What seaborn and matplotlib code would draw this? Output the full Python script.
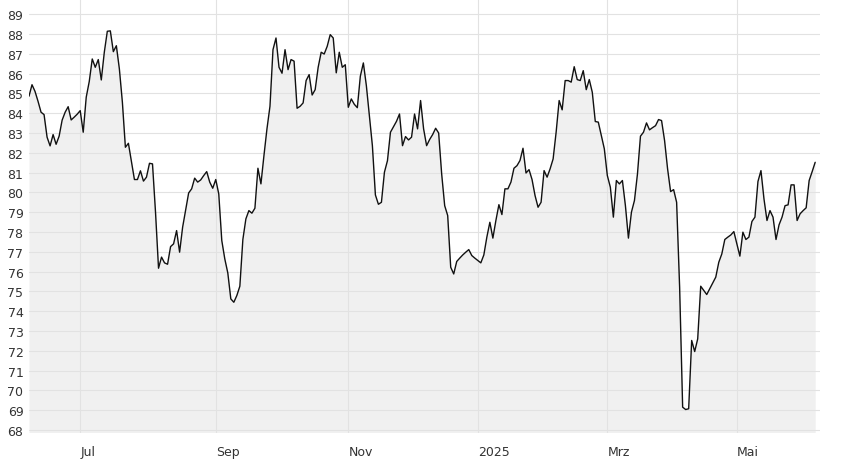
import matplotlib
matplotlib.use("Agg")
import matplotlib.pyplot as plt
import seaborn as sns
import numpy as np
import pandas as pd

# Schlusskurse je Handelstag, ab 06.06.2024
kurs = [
    84.86, 85.44, 85.1, 84.6, 84.05, 83.93, 82.79, 82.35, 82.92, 82.43,
    82.84, 83.65, 84.05, 84.33, 83.66, 83.8, 83.95, 84.13, 83.04, 84.81,
    85.6, 86.74, 86.32, 86.71, 85.68, 87.08, 88.14, 88.16, 87.11, 87.41,
    86.24, 84.56, 82.28, 82.48, 81.55, 80.65, 80.65, 81.09, 80.57, 80.77,
    81.47, 81.44, 79.0, 76.17, 76.73, 76.44, 76.37, 77.26, 77.4, 78.07,
    76.98, 78.24, 79.1, 79.97, 80.18, 80.72, 80.52, 80.63, 80.85, 81.05,
    80.52, 80.21, 80.65, 79.92, 77.57, 76.64, 75.93, 74.62, 74.45, 74.79,
    75.26, 77.62, 78.66, 79.08, 78.95, 79.2, 81.22, 80.43, 81.86, 83.21,
    84.35, 87.21, 87.8, 86.32, 86.02, 87.21, 86.2, 86.71, 86.63, 84.25,
    84.35, 84.52, 85.65, 85.95, 84.92, 85.19, 86.32, 87.08, 86.99, 87.38,
    87.97, 87.8, 86.04, 87.08, 86.32, 86.45, 84.3, 84.72, 84.45, 84.28,
    85.87, 86.54, 85.39, 83.88, 82.36, 79.87, 79.4, 79.5, 81.02, 81.6,
    83.04, 83.32, 83.59, 83.96, 82.36, 82.82, 82.65, 82.79, 83.96, 83.21,
    84.64, 83.21, 82.36, 82.67, 82.92, 83.24, 83.0, 80.93, 79.33, 78.83,
    76.22, 75.88, 76.51, 76.68, 76.84, 76.98, 77.11, 76.81, 76.68, 76.56,
    76.44, 76.84, 77.74, 78.49, 77.69, 78.58, 79.38, 78.88, 80.18, 80.18,
    80.52, 81.22, 81.35, 81.61, 82.23, 80.98, 81.15, 80.65, 79.84, 79.25,
    79.5, 81.1, 80.77, 81.19, 81.69, 83.04, 84.64, 84.17, 85.65, 85.65,
    85.57, 86.35, 85.7, 85.65, 86.15, 85.19, 85.7, 85.06, 83.58, 83.55,
    82.87, 82.2, 80.85, 80.26, 78.75, 80.6, 80.43, 80.6, 79.33, 77.69,
    79.0, 79.59, 80.93, 82.84, 83.04, 83.51, 83.16, 83.27, 83.37, 83.68,
    83.63, 82.62, 81.19, 80.04, 80.14, 79.5, 75.2, 69.15, 69.03, 69.07,
    72.52, 71.96, 72.6, 75.26, 75.05, 74.84, 75.13, 75.43, 75.72, 76.47,
    76.89, 77.62, 77.74, 77.85, 78.02, 77.4, 76.78, 77.99, 77.62, 77.74,
    78.53, 78.75, 80.55, 81.1, 79.67, 78.58, 79.08, 78.75, 77.62, 78.36,
    78.75, 79.33, 79.37, 80.38, 80.38, 78.58, 78.92, 79.08, 79.22, 80.6,
    81.05, 81.52,
]
tick_monate = ["2024-07", "2024-09", "2024-11", "2025-01", "2025-03", "2025-05"]
tick_texte = ["Jul", "Sep", "Nov", "2025", "Mrz", "Mai"]
y_ticks = list(range(68, 90))

datum = pd.bdate_range("2024-06-06", periods=len(kurs))
df = pd.DataFrame({"tag": np.arange(len(kurs)), "datum": datum, "kurs": kurs})

sns.set_style("white")
plt.rcParams["font.family"] = ["DejaVu Sans"]

fig = plt.figure(figsize=(8.48, 4.6), dpi=100)
ax = fig.add_axes([29 / 848, 1 - 433.5 / 460, 791 / 848, 433.5 / 460])

y_min, y_max = 67.87, 89.77
ax.fill_between(df["tag"], df["kurs"], y_min, color="#f0f0f0", linewidth=0, zorder=0.3)
sns.lineplot(data=df, x="tag", y="kurs", color="#111111", linewidth=1.0, ax=ax, zorder=3)

# erster Handelstag je Monat als Tick
pos = [int(df.index[df["datum"] >= pd.Timestamp(m + "-01")][0]) for m in tick_monate]
ax.set_xticks(pos)
ax.set_xticklabels(tick_texte, ha="left")
ax.set_yticks(y_ticks)

ax.set_xlim(0, len(kurs) - 1 + 1.6)
ax.set_ylim(y_min, y_max)
ax.grid(True, color="#e2e2e2", linewidth=0.8, zorder=0.5)
ax.set_axisbelow(False)
for s in ax.spines.values():
    s.set_visible(False)
ax.tick_params(axis="y", length=0, pad=4, labelsize=9, labelcolor="#333333")
ax.tick_params(axis="x", length=0, pad=9, labelsize=9, labelcolor="#333333")
ax.set_xlabel("")
ax.set_ylabel("")

fig.savefig("out.png", dpi=100)
